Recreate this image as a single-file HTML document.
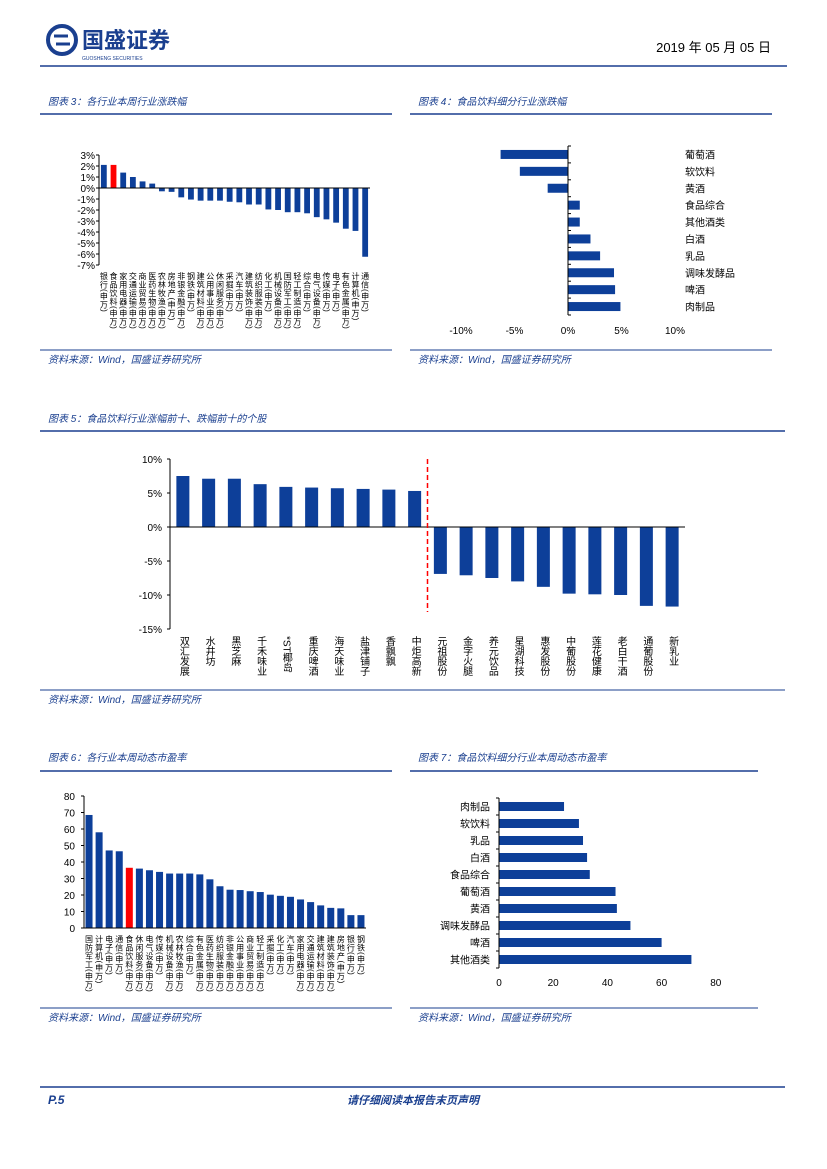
<!DOCTYPE html>
<html><head><meta charset="utf-8"><style>
body{margin:0;background:#fff;}
svg{display:block;font-family:"Liberation Sans","Noto Sans CJK SC",sans-serif;}
.t{fill:#1a3f8f;font-style:italic;font-size:10px;}
.s{fill:#1a3f8f;font-style:italic;font-size:10px;}
.ax{font-size:10px;fill:#000;}
.vl{font-size:8px;fill:#000;writing-mode:vertical-rl;letter-spacing:0.5px;}
</style></head><body>
<svg id="pg" width="827" height="1169">
<g>
<circle cx="62" cy="40" r="14" fill="none" stroke="#1a3f8f" stroke-width="4"/>
<path d="M54 36 h14 M56 44 h14" stroke="#1a3f8f" stroke-width="3"/>
<text x="82" y="48" font-size="22" font-weight="bold" fill="#1a3f8f">国盛证券</text>
<text x="82" y="60" font-size="5" fill="#1a3f8f">GUOSHENG SECURITIES</text>
<text x="771" y="52" font-size="13" text-anchor="end" fill="#000">2019 年 05 月 05 日</text>
<line x1="40" y1="66" x2="787" y2="66" stroke="#1a3f8f" stroke-width="1.5"/>
</g>
<text class="t" x="48" y="105">图表 3：各行业本周行业涨跌幅</text>
<line x1="40" y1="114" x2="392" y2="114" stroke="#1a3f8f" stroke-width="1.5"/>
<text class="t" x="418" y="105">图表 4：食品饮料细分行业涨跌幅</text>
<line x1="410" y1="114" x2="772" y2="114" stroke="#1a3f8f" stroke-width="1.5"/>
<line x1="40" y1="350" x2="392" y2="350" stroke="#1a3f8f"/>
<line x1="410" y1="350" x2="772" y2="350" stroke="#1a3f8f"/>
<text class="s" x="48" y="363">资料来源：Wind，国盛证券研究所</text>
<text class="s" x="418" y="363">资料来源：Wind，国盛证券研究所</text>
<text class="t" x="48" y="422">图表 5：食品饮料行业涨幅前十、跌幅前十的个股</text>
<line x1="40" y1="431" x2="785" y2="431" stroke="#1a3f8f" stroke-width="1.5"/>
<line x1="40" y1="690" x2="785" y2="690" stroke="#1a3f8f"/>
<text class="s" x="48" y="703">资料来源：Wind，国盛证券研究所</text>
<text class="t" x="48" y="761">图表 6：各行业本周动态市盈率</text>
<line x1="40" y1="771" x2="392" y2="771" stroke="#1a3f8f" stroke-width="1.5"/>
<text class="t" x="418" y="761">图表 7：食品饮料细分行业本周动态市盈率</text>
<line x1="410" y1="771" x2="758" y2="771" stroke="#1a3f8f" stroke-width="1.5"/>
<line x1="40" y1="1008" x2="392" y2="1008" stroke="#1a3f8f"/>
<line x1="410" y1="1008" x2="758" y2="1008" stroke="#1a3f8f"/>
<text class="s" x="48" y="1021">资料来源：Wind，国盛证券研究所</text>
<text class="s" x="418" y="1021">资料来源：Wind，国盛证券研究所</text>
<line x1="40" y1="1087" x2="785" y2="1087" stroke="#1a3f8f" stroke-width="1.5"/>
<text x="48" y="1104" font-size="12" font-weight="bold" font-style="italic" fill="#1a3f8f">P.5</text>
<text x="413" y="1104" font-size="11" font-weight="bold" font-style="italic" fill="#1a3f8f" text-anchor="middle">请仔细阅读本报告末页声明</text>
<g id="c3"></g>
<g id="c4"></g>
<g id="c5"></g>
<g id="c6"></g>
<g id="c7"></g>
</svg>
<script>
const c3Cats=["银行","食品饮料","家用电器","交通运输","商业贸易","医药生物","农林牧渔","房地产","非银金融","钢铁","建筑材料","公用事业","休闲服务","采掘","汽车","建筑装饰","纺织服装","化工","机械设备","国防军工","轻工制造","综合","电气设备","传媒","电子","有色金属","计算机","通信"];
const c3Vals=[2.1,2.1,1.4,1.0,0.6,0.4,-0.3,-0.35,-0.85,-1.05,-1.15,-1.15,-1.15,-1.25,-1.3,-1.5,-1.5,-1.95,-2.0,-2.2,-2.2,-2.3,-2.65,-2.85,-3.15,-3.7,-3.9,-6.25];
const c3Ticks=[3,2,1,0,-1,-2,-3,-4,-5,-6,-7];
const c4Cats=["葡萄酒","软饮料","黄酒","食品综合","其他酒类","白酒","乳品","调味发酵品","啤酒","肉制品"];
const c4Vals=[-6.3,-4.5,-1.9,1.1,1.1,2.1,3.0,4.3,4.4,4.9];
const c4Ticks=[-10,-5,0,5,10];
const c5Cats=["双汇发展","水井坊","黑芝麻","千禾味业","*ST椰岛","重庆啤酒","海天味业","盐津铺子","香飘飘","中炬高新","元祖股份","金字火腿","养元饮品","星湖科技","惠发股份","中葡股份","莲花健康","老白干酒","通葡股份","新乳业"];
const c5Vals=[7.5,7.1,7.1,6.3,5.9,5.8,5.7,5.6,5.5,5.3,-6.9,-7.1,-7.5,-8.0,-8.8,-9.8,-9.9,-10.0,-11.6,-11.7];
const c5Ticks=[10,5,0,-5,-10,-15];
const c6Cats=["国防军工","计算机","电子","通信","食品饮料","休闲服务","电气设备","传媒","机械设备","农林牧渔","综合","有色金属","医药生物","纺织服装","非银金融","公用事业","商业贸易","轻工制造","采掘","化工","汽车","家用电器","交通运输","建筑材料","建筑装饰","房地产","银行","钢铁"];
const c6Vals=[68.5,58,47,46.5,36.5,36,35,34,33,33,33,32.5,29.5,25.3,23.2,23,22.3,21.8,20.2,19.5,18.9,17.3,15.7,13.7,12.2,11.9,7.8,7.8];
const c6Ticks=[0,10,20,30,40,50,60,70,80];
const c7Cats=["肉制品","软饮料","乳品","白酒","食品综合","葡萄酒","黄酒","调味发酵品","啤酒","其他酒类"];
const c7Vals=[24,29.5,31,32.5,33.5,43,43.5,48.5,60,71];
const c7Ticks=[0,20,40,60,80];
const NS="http://www.w3.org/2000/svg",B="#0d3f99",R="#ff0000";
function mk(p,t,a,txt){const e=document.createElementNS(NS,t);for(const k in a)e.setAttribute(k,a[k]);if(txt!==undefined)e.textContent=txt;p.appendChild(e);return e;}
(function(){const g=document.getElementById('c3');const y=v=>188-v*11,x0=99,x1=370,st=(x1-x0)/c3Cats.length;
mk(g,'line',{x1:x0,y1:y(3),x2:x0,y2:y(-7),stroke:'#000'});
c3Ticks.forEach(t=>{mk(g,'line',{x1:x0-3,y1:y(t),x2:x0,y2:y(t),stroke:'#000'});mk(g,'text',{x:x0-4,y:y(t)+4,'text-anchor':'end',class:'ax'},t+'%');});
c3Cats.forEach((c,i)=>{const v=c3Vals[i],bx=x0+st*i+st*0.2;const r=mk(g,'rect',{x:bx,y:Math.min(y(v),y(0)),width:st*0.6,height:Math.abs(y(v)-y(0)),fill:c==="食品饮料"?R:B});

const tl=mk(g,'text',{x:x0+st*i+st/2,y:272,class:'vl'},c+'(申万)');});
mk(g,'line',{x1:x0,y1:y(0),x2:x1,y2:y(0),stroke:'#000'});})();
(function(){const g=document.getElementById('c4');const x=v=>568+v*10.7,y0=146,st=16.9;
c4Cats.forEach((c,i)=>{const v=c4Vals[i],cy=y0+st*i+st/2;const r=mk(g,'rect',{x:Math.min(x(v),x(0)),y:cy-4.5,width:Math.abs(x(v)-x(0)),height:9,fill:B});

mk(g,'text',{x:685,y:cy+4,class:'ax'},c);});
mk(g,'line',{x1:x(0),y1:y0,x2:x(0),y2:y0+st*10,stroke:'#000'});
for(let i=0;i<=10;i++)mk(g,'line',{x1:x(0),y1:y0+st*i,x2:x(0)+3,y2:y0+st*i,stroke:'#000'});
c4Ticks.forEach(t=>mk(g,'text',{x:x(t),y:334,'text-anchor':'middle',class:'ax'},t+'%'));})();
(function(){const g=document.getElementById('c5');const y=v=>527-v*6.8,x0=170,x1=685,st=(x1-x0)/c5Cats.length;
mk(g,'line',{x1:x0,y1:y(10),x2:x0,y2:y(-15),stroke:'#000'});
c5Ticks.forEach(t=>{mk(g,'line',{x1:x0-3,y1:y(t),x2:x0,y2:y(t),stroke:'#000'});mk(g,'text',{x:x0-8,y:y(t)+4,'text-anchor':'end',class:'ax'},t+'%');});
c5Cats.forEach((c,i)=>{const v=c5Vals[i],cx=x0+st*i+st/2;const r=mk(g,'rect',{x:cx-6.5,y:Math.min(y(v),y(0)),width:13,height:Math.abs(y(v)-y(0)),fill:B});

mk(g,'text',{x:cx,y:636,class:'vl',style:'font-size:10px;letter-spacing:0'},c);});
mk(g,'line',{x1:x0,y1:y(0),x2:x1,y2:y(0),stroke:'#000'});
mk(g,'line',{x1:x0+st*10,y1:y(10),x2:x0+st*10,y2:612,stroke:R,'stroke-width':1.5,'stroke-dasharray':'5,3'});})();
(function(){const g=document.getElementById('c6');const y=v=>928-v*1.65,x0=84,x1=366,st=(x1-x0)/c6Cats.length;
mk(g,'line',{x1:x0,y1:y(80),x2:x0,y2:y(0),stroke:'#000'});
c6Ticks.forEach(t=>{mk(g,'line',{x1:x0-3,y1:y(t),x2:x0,y2:y(t),stroke:'#000'});mk(g,'text',{x:x0-9,y:y(t)+4,'text-anchor':'end',class:'ax'},t);});
c6Cats.forEach((c,i)=>{const v=c6Vals[i],cx=x0+st*i+st/2;const r=mk(g,'rect',{x:cx-3.5,y:y(v),width:7,height:y(0)-y(v),fill:c==="食品饮料"?R:B});

mk(g,'text',{x:cx,y:935,class:'vl'},c+'(申万)');});
mk(g,'line',{x1:x0,y1:y(0),x2:x1,y2:y(0),stroke:'#000'});})();
(function(){const g=document.getElementById('c7');const x=v=>499+v*2.71,y0=798,st=17;
c7Cats.forEach((c,i)=>{const v=c7Vals[i],cy=y0+st*i+st/2;const r=mk(g,'rect',{x:x(0),y:cy-4.5,width:x(v)-x(0),height:9,fill:B});

mk(g,'text',{x:490,y:cy+4,'text-anchor':'end',class:'ax'},c);});
mk(g,'line',{x1:x(0),y1:y0,x2:x(0),y2:y0+st*10,stroke:'#000'});
for(let i=0;i<=10;i++)mk(g,'line',{x1:x(0)-3,y1:y0+st*i,x2:x(0),y2:y0+st*i,stroke:'#000'});
c7Ticks.forEach(t=>mk(g,'text',{x:x(t),y:986,'text-anchor':'middle',class:'ax'},t));})();
</script>
</body></html>
